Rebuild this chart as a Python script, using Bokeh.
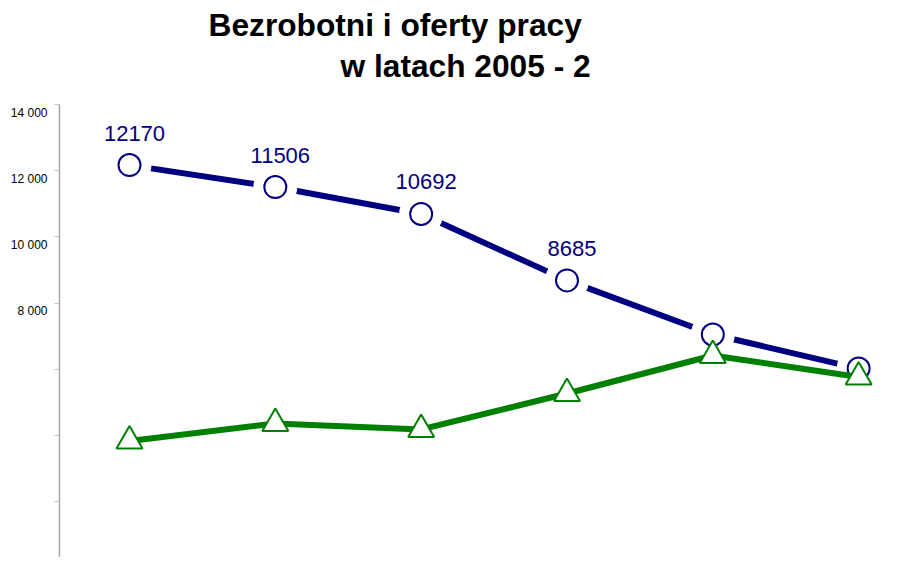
from bokeh.plotting import figure
from bokeh.models import Range1d, FixedTicker, ColumnDataSource
from bokeh.core.properties import value
from bokeh.embed import file_html
from bokeh.resources import INLINE

years = [2005, 2006, 2007, 2008, 2009, 2010]
bezrobotni = [12170, 11506, 10692, 8685, 7050, 6020]
oferty = [3830, 4360, 4180, 5265, 6415, 5765]
labeled_years = [2005, 2006, 2007, 2008]
labeled_values = [12170, 11506, 10692, 8685]
tick_values = [2000, 4000, 6000, 8000, 10000, 12000, 14000]
tick_labels = ["", "", "", "8 000", "10 000", "12 000", "14 000"]
title_lines = ["Bezrobotni i oferty pracy", "w latach 2005 - 2"]

FONT = "Liberation Sans"
NAVY = "#000080"
GREEN = "#008000"

X0, X1 = 2004.52, 2010.39
p = figure(width=915, height=557, output_backend="svg", toolbar_location=None,
           x_axis_type=None, min_border_left=59, min_border_right=0,
           min_border_top=0, min_border_bottom=0)
p.x_range = Range1d(X0, X1)
p.y_range = Range1d(308, 17146)
p.outline_line_color = None
p.grid.visible = False
p.background_fill_color = "white"
p.border_fill_color = "white"

ax = p.yaxis[0]
ax.ticker = FixedTicker(ticks=tick_values)
# labels sit a little below their ticks in the original: an empty first line does that
ax.major_label_overrides = {t: ("\n" + l if l else "") for t, l in zip(tick_values, tick_labels)}
ax.major_label_text_font = FONT
ax.major_label_text_font_size = "12px"
ax.major_label_text_color = "black"
ax.major_label_standoff = 7
ax.bounds = (0, 14000)
ax.axis_line_color = "#a6a6a6"
ax.axis_line_width = 1.5
ax.major_tick_line_color = "#c0c0c0"
ax.major_tick_out = 5
ax.major_tick_in = 0
ax.minor_tick_out = 0
ax.minor_tick_in = 0

# blue series
p.line(years, bezrobotni, line_color=NAVY, line_width=6)
p.scatter(years, bezrobotni, marker="circle", size=44, fill_color="white",
          line_color=None)
p.scatter(years, bezrobotni, marker="circle", size=22, fill_color="white",
          line_color=NAVY, line_width=2)

# green series
p.line(years, oferty, line_color=GREEN, line_width=6)
p.scatter(years, oferty, marker="triangle", size=26, fill_color="white",
          line_color=GREEN, line_width=2)

# data labels
src = ColumnDataSource(dict(x=labeled_years, y=labeled_values,
                            t=[str(v) for v in labeled_values]))
p.text(x="x", y="y", text="t", source=src, text_font=value(FONT),
       text_font_size="22px", text_color=NAVY, text_align="center",
       text_baseline="middle", x_offset=5, y_offset=-32)

# title
p.text(x=[2005.542], y=[16391], text=[title_lines[0]], text_font=value(FONT),
       text_font_size="31.7px", text_font_style="bold", text_color="black",
       text_align="left", text_baseline="middle")
p.text(x=[2006.447], y=[15181], text=[title_lines[1]], text_font=value(FONT),
       text_font_size="31.7px", text_font_style="bold", text_color="black",
       text_align="left", text_baseline="middle")

open("out.html", "w").write(file_html(p, INLINE))
